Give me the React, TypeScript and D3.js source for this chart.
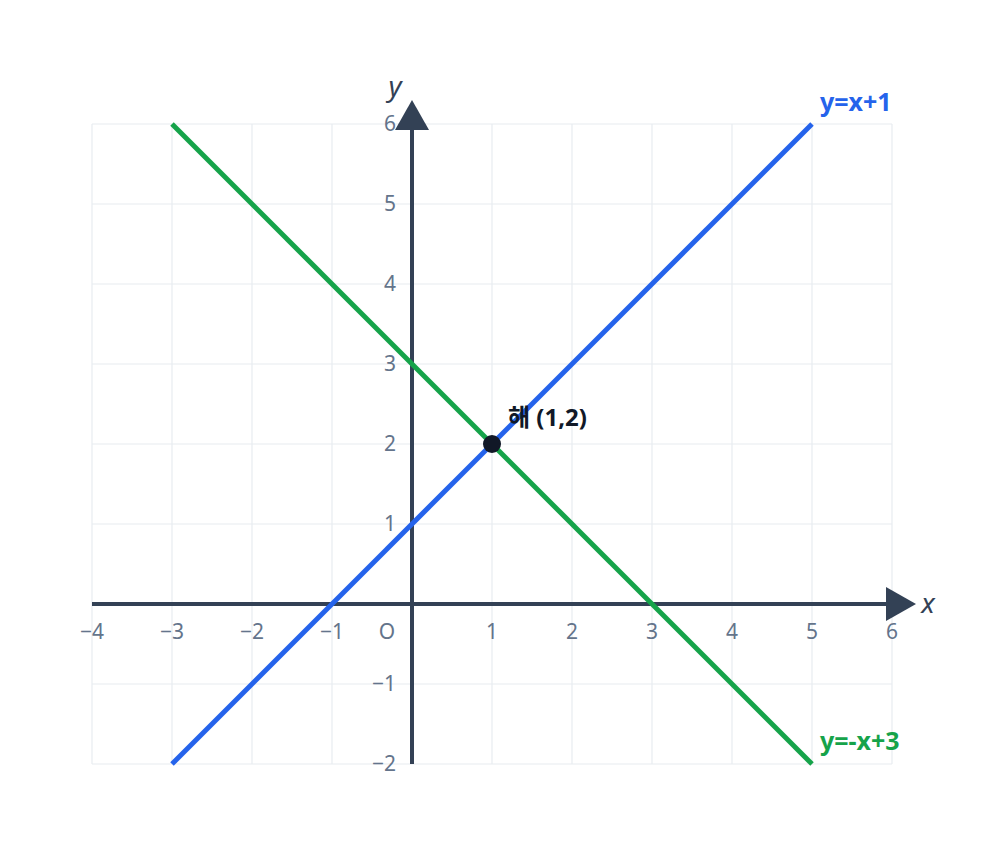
import * as d3 from "d3";

const xTicks = [-4, -3, -2, -1, 0, 1, 2, 3, 4, 5, 6];
const yTicks = [-2, -1, 0, 1, 2, 3, 4, 5, 6];
const blueLine = [
  { x: -3, y: -2 },
  { x: 5, y: 6 },
];
const greenLine = [
  { x: -3, y: 6 },
  { x: 5, y: -2 },
];
const solution = { x: 1, y: 2, label: "해 (1,2)" };

const W = 984;
const H = 856;
const font = "'Noto Sans', 'Noto Sans CJK KR', sans-serif";
const axisColor = "#334155";
const tickColor = "#64748b";

export default function App() {
  const x = d3.scaleLinear().domain([-4, 6]).range([92, 892]);
  const y = d3.scaleLinear().domain([-2, 6]).range([764, 124]);
  const line = d3
    .line<{ x: number; y: number }>()
    .x((d) => x(d.x))
    .y((d) => y(d.y));

  const x0 = x(0);
  const y0 = y(0);

  return (
    <svg
      width={W}
      height={H}
      style={{ position: "absolute", left: 0, top: 0, background: "#fff" }}
      fontFamily={font}
    >
      {/* grid */}
      <g stroke="#e8ecf0" strokeWidth={1.2}>
        {xTicks.map((t) => (
          <line key={"gx" + t} x1={x(t)} x2={x(t)} y1={y(6)} y2={y(-2)} />
        ))}
        {yTicks.map((t) => (
          <line key={"gy" + t} x1={x(-4)} x2={x(6)} y1={y(t)} y2={y(t)} />
        ))}
      </g>

      {/* axes */}
      <line x1={x(-4)} x2={x(6) - 4} y1={y0} y2={y0} stroke={axisColor} strokeWidth={4} />
      <path
        d={`M${x(6) - 6},${y0 - 17} L${x(6) + 24},${y0} L${x(6) - 6},${y0 + 17} Z`}
        fill={axisColor}
      />
      <line x1={x0} x2={x0} y1={y(-2)} y2={y(6) + 4} stroke={axisColor} strokeWidth={4} />
      <path
        d={`M${x0 - 17},${y(6) + 6} L${x0},${y(6) - 24} L${x0 + 17},${y(6) + 6} Z`}
        fill={axisColor}
      />
      <text x={x(6) + 36} y={y0 + 9} fontSize={28} fontStyle="italic" fill={axisColor} textAnchor="middle">
        x
      </text>
      <text x={x0 - 17} y={y(6) - 28} fontSize={28} fontStyle="italic" fill={axisColor} textAnchor="middle">
        y
      </text>

      {/* tick labels */}
      <g fill={tickColor} fontSize={21}>
        {xTicks.map((t) => (
          <text
            key={"tx" + t}
            x={t === 0 ? x0 - 25 : x(t)}
            y={y0 + 35}
            textAnchor="middle"
          >
            {t === 0 ? "O" : t < 0 ? "−" + Math.abs(t) : t}
          </text>
        ))}
        {yTicks
          .filter((t) => t !== 0)
          .map((t) => (
            <text key={"ty" + t} x={x0 - 16} y={y(t) + 7} textAnchor="end">
              {t < 0 ? "−" + Math.abs(t) : t}
            </text>
          ))}
      </g>

      {/* lines */}
      <path d={line(blueLine) ?? ""} stroke="#2563eb" strokeWidth={5} fill="none" />
      <path d={line(greenLine) ?? ""} stroke="#16a34a" strokeWidth={5} fill="none" />

      <text x={x(5) + 8} y={y(6) - 13} fontSize={25} fontWeight="bold" fill="#2563eb">
        y=x+1
      </text>
      <text x={x(5) + 8} y={y(-2) - 14} fontSize={25} fontWeight="bold" fill="#16a34a">
        y=-x+3
      </text>

      {/* solution */}
      <circle cx={x(solution.x)} cy={y(solution.y)} r={9} fill="#111827" />
      <text
        x={x(solution.x) + 16}
        y={y(solution.y) - 18}
        fontSize={24}
        fontWeight="bold"
        fill="#111827"
      >
        {solution.label}
      </text>
    </svg>
  );
}
